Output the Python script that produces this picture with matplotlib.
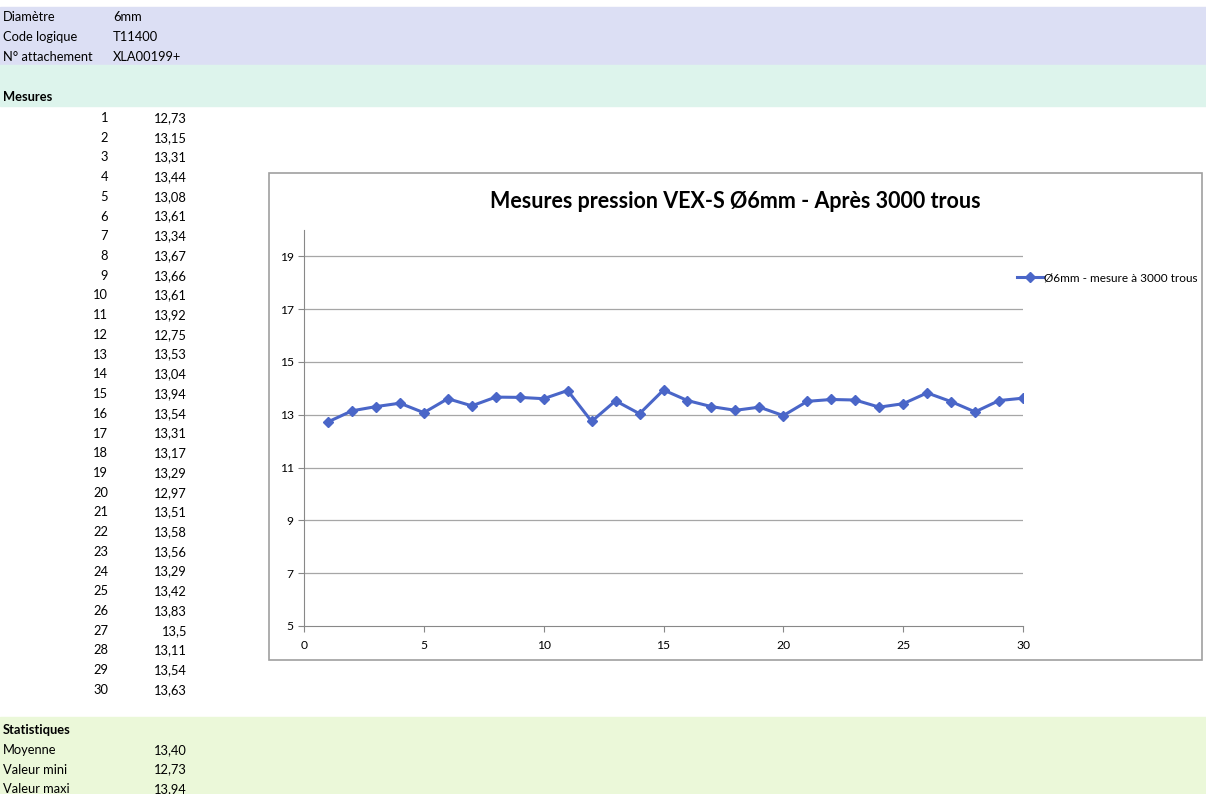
import matplotlib.pyplot as plt
from matplotlib.patches import Rectangle

plt.rcParams['font.family'] = ['Lato', 'DejaVu Sans']

W, H = 1206, 794

# header info
info_labels = ["Diamètre", "Code logique", "N° attachement"]
info_values = ["6mm", "T11400", "XLA00199+"]

# measurements
mesure_idx = list(range(1, 31))
mesures = [12.73, 13.15, 13.31, 13.44, 13.08, 13.61, 13.34, 13.67, 13.66, 13.61,
           13.92, 12.75, 13.53, 13.04, 13.94, 13.54, 13.31, 13.17, 13.29, 12.97,
           13.51, 13.58, 13.56, 13.29, 13.42, 13.83, 13.5, 13.11, 13.54, 13.63]

stat_labels = ["Moyenne", "Valeur mini", "Valeur maxi"]
stat_values = [13.40, 12.73, 13.94]

title = "Mesures pression VEX-S Ø6mm - Après 3000 trous"
serie_name = "Ø6mm - mesure à 3000 trous"
line_color = "#4a66c8"


def fx(px):
    return px / W


def fy(py):
    return 1 - py / H


fig = plt.figure(figsize=(W / 100, H / 100), dpi=100)

# coloured bands of the sheet
fig.patches.append(Rectangle((0, fy(65)), 1, (65 - 7) / H, transform=fig.transFigure,
                             color="#dcdff4", zorder=0))
fig.patches.append(Rectangle((0, fy(106)), 1, (106 - 65) / H, transform=fig.transFigure,
                             color="#ddf4ec", zorder=0))
fig.patches.append(Rectangle((0, 0), 1, (794 - 717) / H, transform=fig.transFigure,
                             color="#ebf8d9", zorder=0))

fs = 9.3
for i, (lab, val) in enumerate(zip(info_labels, info_values)):
    y = fy(17 + i * 20)
    fig.text(fx(3), y, lab, fontsize=fs, va="center")
    fig.text(fx(113), y, val, fontsize=fs, va="center")

fig.text(fx(3), fy(97), "Mesures", fontsize=fs, va="center", fontweight="bold")

for i, (n, v) in enumerate(zip(mesure_idx, mesures)):
    y = fy(118 + i * 19.72)
    fig.text(fx(108), y, str(n), fontsize=fs, va="center", ha="right")
    fig.text(fx(187), y, f"{v:g}".replace(".", ","), fontsize=fs, va="center", ha="right")

fig.text(fx(3), fy(730), "Statistiques", fontsize=fs, va="center", fontweight="bold")
for i, (lab, val) in enumerate(zip(stat_labels, stat_values)):
    y = fy(750 + i * 19.5)
    fig.text(fx(3), y, lab, fontsize=fs, va="center")
    fig.text(fx(187), y, f"{val:.2f}".replace(".", ","), fontsize=fs, va="center", ha="right")

# chart frame
fig.patches.append(Rectangle((fx(269), fy(660)), (1202 - 269) / W, (660 - 173) / H,
                             transform=fig.transFigure, facecolor="white",
                             edgecolor="#a0a0a0", linewidth=1.2, zorder=1))

fig.text(fx(735), fy(201), title, fontsize=15.5, fontweight="bold", ha="center", va="center")

ax = fig.add_axes([fx(304), fy(626), (1023 - 304) / W, (626 - 230) / H])
ax.set_zorder(2)
ax.patch.set_alpha(0)
ax.plot(mesure_idx, mesures, color=line_color, linewidth=2.2, marker="D",
        markersize=5.5, label=serie_name)
ax.set_xlim(0, 30)
ax.set_ylim(5, 20)
ax.set_xticks(range(0, 31, 5))
ax.set_yticks(range(5, 20, 2))
for y in range(7, 20, 2):
    ax.axhline(y, color="#a6a6a6", linewidth=0.9, zorder=0)
for s in ["top", "right"]:
    ax.spines[s].set_visible(False)
for s in ["left", "bottom"]:
    ax.spines[s].set_color("#888888")
ax.tick_params(axis="both", labelsize=8.7, color="#888888", length=4, direction="out")
ax.tick_params(axis="x", pad=6)
ax.legend(loc="center left", bbox_to_anchor=(fx(1012), fy(278)),
          bbox_transform=fig.transFigure, frameon=False, fontsize=8.5,
          handlelength=2.2, handletextpad=0.1, borderaxespad=0)

fig.savefig("out.png", dpi=100)
